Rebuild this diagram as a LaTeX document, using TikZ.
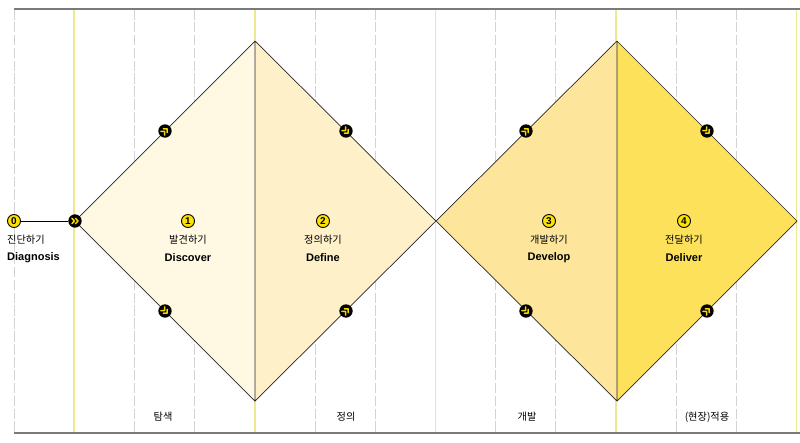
\documentclass[tikz,border=0pt]{standalone}
\usepackage{fontspec}
\setmainfont{Liberation Sans}
\newfontfamily\krfont{Noto Sans CJK KR}
\usepackage{tikz}
\usetikzlibrary{positioning}

\definecolor{lineyel}{HTML}{EEE88E}
\definecolor{gridgray}{HTML}{D3D3D3}
\definecolor{rulegray}{HTML}{7A7A7A}
\definecolor{fillA}{HTML}{FFF9E3}
\definecolor{fillB}{HTML}{FEF0C8}
\definecolor{fillC}{HTML}{FDE69B}
\definecolor{fillD}{HTML}{FEE15B}
\definecolor{numyel}{HTML}{FFE300}
\definecolor{chevyel}{HTML}{F6D900}

\tikzset{
    numdot/.style={circle, draw=black, fill=numyel, line width=0.8pt, inner sep=0pt,
        minimum size=0.39cm, font=\bfseries\fontsize{8.5}{8.5}\selectfont},
    chevdot/.style={circle, fill=black, inner sep=0pt, minimum size=0.4cm},
    krlabel/.style={font=\krfont\fontsize{8.7}{9}\selectfont, inner sep=0pt},
    enlabel/.style={font=\bfseries\fontsize{9.4}{10}\selectfont, inner sep=0pt},
    edge/.style={draw=black!85, line width=0.6pt, line join=miter},
    chevs/.pic={
        \draw[chevyel, line width=1.3pt, line cap=round, line join=round]
            (-3.1,-2.7) -- (-0.6,0) -- (-3.1,2.7)
            (0.5,-2.7) -- (3.0,0) -- (0.5,2.7);
    }
}

\begin{document}
\begin{tikzpicture}[x=0.03cm, y=-0.03cm]
    \useasboundingbox (0,0) rectangle (800,443);

    % The column grid - gray dashed, every third one yellow
    \foreach \k in {0,...,13} {
        \pgfmathsetmacro{\gx}{14+60.2*\k}
        \pgfmathtruncatemacro{\r}{mod(\k,3)}
        \ifnum\r=1
            \draw[lineyel, line width=1.2pt] (\gx,9) -- (\gx,433);
        \else
            \draw[gridgray, line width=0.6pt, dash pattern=on 9pt off 2pt] (\gx,9) -- (\gx,433);
        \fi
    }

    % Top and bottom rules
    \draw[rulegray, line width=1pt] (14,9) -- (800,9);
    \draw[rulegray, line width=1pt] (14,433) -- (800,433);

    % First diamond - discover / define
    \fill[fillA] (75,221) -- (255,41) -- (255,401) -- cycle;
    \fill[fillB] (255,41) -- (436,221) -- (255,401) -- cycle;
    \path[edge] (75,221) -- (255,41) -- (436,221) -- (255,401) -- cycle
        (255,41) -- (255,401);

    % Second diamond - develop / deliver
    \fill[fillC] (436,221) -- (617,41) -- (617,401) -- cycle;
    \fill[fillD] (617,41) -- (797,221) -- (617,401) -- cycle;
    \path[edge] (436,221) -- (617,41) -- (797,221) -- (617,401) -- cycle
        (617,41) -- (617,401);

    % Step 0 - diagnosis, joined to the entry marker
    \node[numdot] (n0) at (14,221) {0};
    \node[chevdot] (m0) at (75,221) {};
    \draw[black, line width=0.6pt] (n0) -- (m0);
    \pic at (m0) {chevs};
    \node[krlabel, anchor=west] (k0) at (7,240) {진단하기};
    \node[enlabel, anchor=west] (e0) at (7,258) {Diagnosis};

    % Flow markers on the diamond edges
    \foreach \mx/\my/\ang/\nm in {165/131/45/m1, 165/311/-45/m2, 346/131/-45/m3, 346/311/45/m4,
                                  526/131/45/m5, 526/311/-45/m6, 707/131/-45/m7, 707/311/45/m8} {
        \node[chevdot] (\nm) at (\mx,\my) {};
        \pic[rotate=\ang] at (\nm) {chevs};
    }

    % The four stages
    \node[numdot] (n1) at (188,221) {1};
    \node[krlabel] (k1) at (188,240) {발견하기};
    \node[enlabel] (e1) at (188,258) {Discover};

    \node[numdot] (n2) at (323,221) {2};
    \node[krlabel] (k2) at (323,240) {정의하기};
    \node[enlabel] (e2) at (323,258) {Define};

    \node[numdot] (n3) at (549,221) {3};
    \node[krlabel] (k3) at (549,240) {개발하기};
    \node[enlabel] (e3) at (549,258) {Develop};

    \node[numdot] (n4) at (684,221) {4};
    \node[krlabel] (k4) at (684,240) {전달하기};
    \node[enlabel] (e4) at (684,258) {Deliver};

    % Phase names along the bottom
    \node[krlabel] (p1) at (163,417) {탐색};
    \node[krlabel] (p2) at (346,417) {정의};
    \node[krlabel] (p3) at (527,417) {개발};
    \node[krlabel] (p4) at (707,417) {(현장)적용};

\end{tikzpicture}
\end{document}
